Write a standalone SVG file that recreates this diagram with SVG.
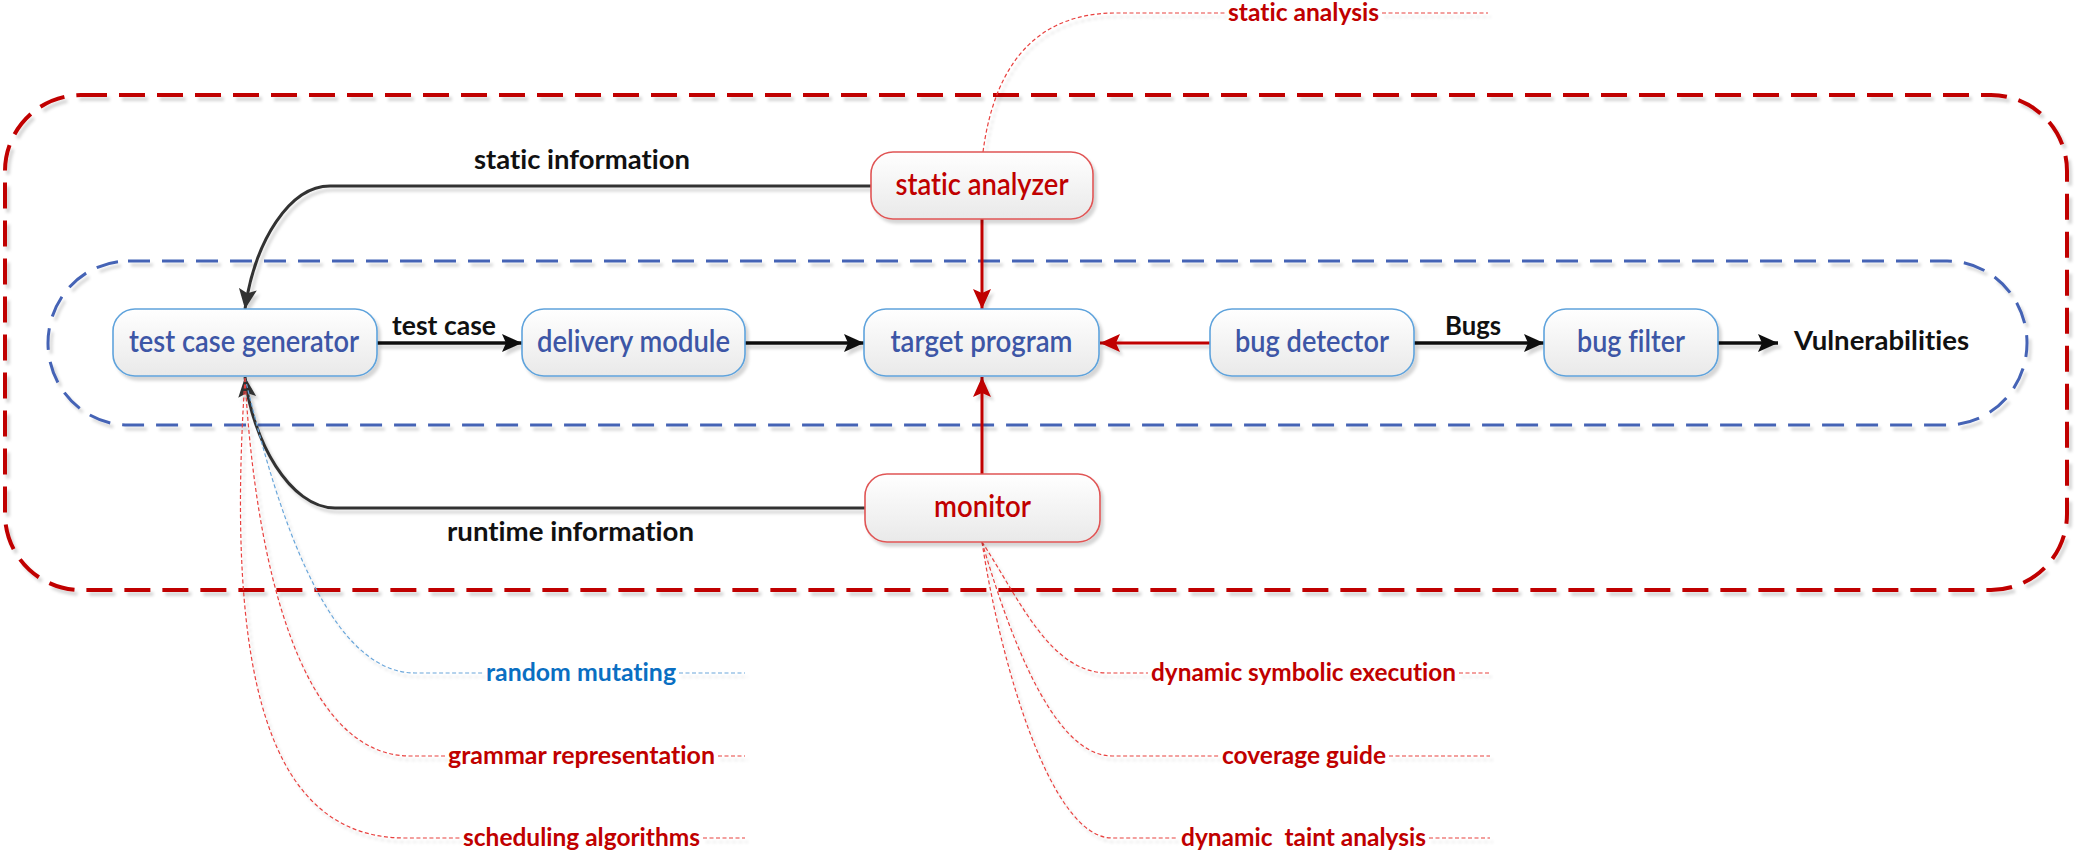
<svg xmlns="http://www.w3.org/2000/svg" width="2076" height="853" viewBox="0 0 2076 853">
<defs>
  <linearGradient id="boxfill" x1="0" y1="0" x2="0" y2="1">
    <stop offset="0" stop-color="#ffffff"/>
    <stop offset="1" stop-color="#e9e9e9"/>
  </linearGradient>
  <filter id="shadow" x="-10%" y="-10%" width="130%" height="140%">
    <feDropShadow dx="3" dy="4" stdDeviation="1.5" flood-color="#000" flood-opacity="0.16"/>
  </filter>
  <marker id="arrBlack" markerUnits="userSpaceOnUse" markerWidth="22" markerHeight="20" refX="20" refY="10" orient="auto">
    <path d="M0,1 L20,10 L0,19 L4,10 Z" fill="#111"/>
  </marker>
  <marker id="arrGray" markerUnits="userSpaceOnUse" markerWidth="22" markerHeight="20" refX="20" refY="10" orient="auto">
    <path d="M0,1 L20,10 L0,19 L4,10 Z" fill="#333"/>
  </marker>
  <marker id="arrRed" markerUnits="userSpaceOnUse" markerWidth="22" markerHeight="20" refX="20" refY="10" orient="auto">
    <path d="M0,1 L20,10 L0,19 L4,10 Z" fill="#c00000"/>
  </marker>
</defs>
<style>
  text { font-variant-ligatures: none; font-feature-settings: "liga" 0, "dlig" 0; }
  .frameRed { fill: none; stroke: #c00000; stroke-width: 4; stroke-dasharray: 26 12; }
  .frameBlue { fill: none; stroke: #4563b5; stroke-width: 3; stroke-dasharray: 22 12; }
  .box { fill: url(#boxfill); stroke: #5fa3dc; stroke-width: 1.6; }
  .boxRed { fill: url(#boxfill); stroke: #e05555; stroke-width: 1.6; }
  .nlabel { font-family: Lato, "Open Sans", sans-serif; font-size: 30px; font-weight: 600; fill: #3d56a6; text-anchor: middle; }
  .nlabelRed { font-family: Lato, "Open Sans", sans-serif; font-size: 30px; font-weight: 600; fill: #c00000; text-anchor: middle; }
  .clabel { font-family: Lato, "Open Sans", sans-serif; font-size: 26px; font-weight: bold; fill: #111; }
  .alabel { font-family: Lato, "Open Sans", sans-serif; font-size: 25px; font-weight: bold; fill: #c00000; }
  .alabelBlue { font-family: Lato, "Open Sans", sans-serif; font-size: 25px; font-weight: bold; fill: #0a6fc2; }
  .conn { fill: none; stroke: #111; stroke-width: 3.5; }
  .connGray { fill: none; stroke: #333; stroke-width: 3; }
  .connRed { fill: none; stroke: #c00000; stroke-width: 3; }
  .lead { fill: none; stroke: #e8413f; stroke-width: 1.2; stroke-dasharray: 4 2.5; }
  .leadBlue { fill: none; stroke: #6aa6da; stroke-width: 1.2; stroke-dasharray: 4 2.5; }
</style>
<rect width="2076" height="853" fill="#ffffff"/>

<g id="frames" filter="url(#shadow)">
  <rect class="frameRed" x="5" y="95" width="2062" height="495" rx="76" ry="76"/>
  <rect class="frameBlue" x="48" y="261" width="1979" height="164" rx="80" ry="82"/>
</g>

<g id="connectors">
  <g filter="url(#shadow)">
    <path class="connGray" d="M871,186 L330,186 C290,186 255,240 245,309" marker-end="url(#arrGray)"/>
    <path class="connGray" d="M865,508 L335,508 C290,508 252,440 245,377" marker-end="url(#arrGray)"/>
    <line class="conn" x1="377" y1="343" x2="522" y2="343" marker-end="url(#arrBlack)"/>
    <line class="conn" x1="745" y1="343" x2="864" y2="343" marker-end="url(#arrBlack)"/>
    <line class="connRed" x1="1210" y1="343" x2="1100" y2="343" marker-end="url(#arrRed)"/>
    <line class="conn" x1="1414" y1="343" x2="1544" y2="343" marker-end="url(#arrBlack)"/>
    <line class="conn" x1="1718" y1="343" x2="1778" y2="343" marker-end="url(#arrBlack)"/>
    <line class="connRed" x1="982" y1="219" x2="982" y2="309" marker-end="url(#arrRed)"/>
    <line class="connRed" x1="982" y1="474" x2="982" y2="377" marker-end="url(#arrRed)"/>
  </g>
  <g id="leaders" filter="url(#shadow)">
    <path class="lead" d="M983,152 C995,60 1040,13 1116,13 L1225,13 M1382,13 L1488,13"/>
    <path class="leadBlue" d="M245,378 C270,480 320,673 415,673 L483,673 M679,673 L745,673"/>
    <path class="lead" d="M245,378 C255,560 300,756 410,756 L445,756 M718,756 L745,756"/>
    <path class="lead" d="M245,378 C225,680 270,838 405,838 L460,838 M703,838 L745,838"/>
    <path class="lead" d="M982,542 C1020,600 1050,673 1108,673 L1148,673 M1459,673 L1490,673"/>
    <path class="lead" d="M982,542 C1005,620 1050,756 1112,756 L1219,756 M1389,756 L1490,756"/>
    <path class="lead" d="M982,542 C1000,660 1050,838 1112,838 L1178,838 M1429,838 L1490,838"/>
  </g>
  <text class="clabel" x="474" y="169" textLength="216" lengthAdjust="spacingAndGlyphs">static information</text>
  <text class="clabel" x="392" y="335" textLength="104" lengthAdjust="spacingAndGlyphs">test case</text>
  <text class="clabel" x="1445" y="335" textLength="56" lengthAdjust="spacingAndGlyphs">Bugs</text>
  <text class="clabel" x="1794" y="350" textLength="175" lengthAdjust="spacingAndGlyphs">Vulnerabilities</text>
  <text class="clabel" x="447" y="541" textLength="247" lengthAdjust="spacingAndGlyphs">runtime information</text>
  <text class="alabel" x="1228" y="21" textLength="151" lengthAdjust="spacingAndGlyphs">static analysis</text>
  <text class="alabelBlue" x="486" y="681" textLength="190" lengthAdjust="spacingAndGlyphs">random mutating</text>
  <text class="alabel" x="448" y="764" textLength="267" lengthAdjust="spacingAndGlyphs">grammar representation</text>
  <text class="alabel" x="463" y="846" textLength="237" lengthAdjust="spacingAndGlyphs">scheduling algorithms</text>
  <text class="alabel" x="1151" y="681" textLength="305" lengthAdjust="spacingAndGlyphs">dynamic symbolic execution</text>
  <text class="alabel" x="1222" y="764" textLength="164" lengthAdjust="spacingAndGlyphs">coverage guide</text>
  <text class="alabel" x="1181" y="846" textLength="245" lengthAdjust="spacingAndGlyphs" xml:space="preserve">dynamic  taint analysis</text>
</g>

<g id="test-case-generator">
  <rect class="box" x="113" y="309" width="264" height="67" rx="22" ry="22" filter="url(#shadow)"/>
  <text class="nlabel" x="244" y="352" textLength="230" lengthAdjust="spacingAndGlyphs">test case generator</text>
</g>
<g id="delivery-module">
  <rect class="box" x="522" y="309" width="223" height="67" rx="22" ry="22" filter="url(#shadow)"/>
  <text class="nlabel" x="633.5" y="352" textLength="193" lengthAdjust="spacingAndGlyphs">delivery module</text>
</g>
<g id="target-program">
  <rect class="box" x="864" y="309" width="235" height="67" rx="22" ry="22" filter="url(#shadow)"/>
  <text class="nlabel" x="981.5" y="352" textLength="182" lengthAdjust="spacingAndGlyphs">target program</text>
</g>
<g id="bug-detector">
  <rect class="box" x="1210" y="309" width="204" height="67" rx="22" ry="22" filter="url(#shadow)"/>
  <text class="nlabel" x="1312" y="352" textLength="154" lengthAdjust="spacingAndGlyphs">bug detector</text>
</g>
<g id="bug-filter">
  <rect class="box" x="1544" y="309" width="174" height="67" rx="22" ry="22" filter="url(#shadow)"/>
  <text class="nlabel" x="1631" y="352" textLength="108" lengthAdjust="spacingAndGlyphs">bug filter</text>
</g>
<g id="static-analyzer">
  <rect class="boxRed" x="871" y="152" width="222" height="67" rx="22" ry="22" filter="url(#shadow)"/>
  <text class="nlabelRed" x="982" y="195" textLength="173" lengthAdjust="spacingAndGlyphs">static analyzer</text>
</g>
<g id="monitor">
  <rect class="boxRed" x="865" y="474" width="235" height="68" rx="22" ry="22" filter="url(#shadow)"/>
  <text class="nlabelRed" x="982.5" y="517" textLength="97" lengthAdjust="spacingAndGlyphs">monitor</text>
</g>
</svg>
